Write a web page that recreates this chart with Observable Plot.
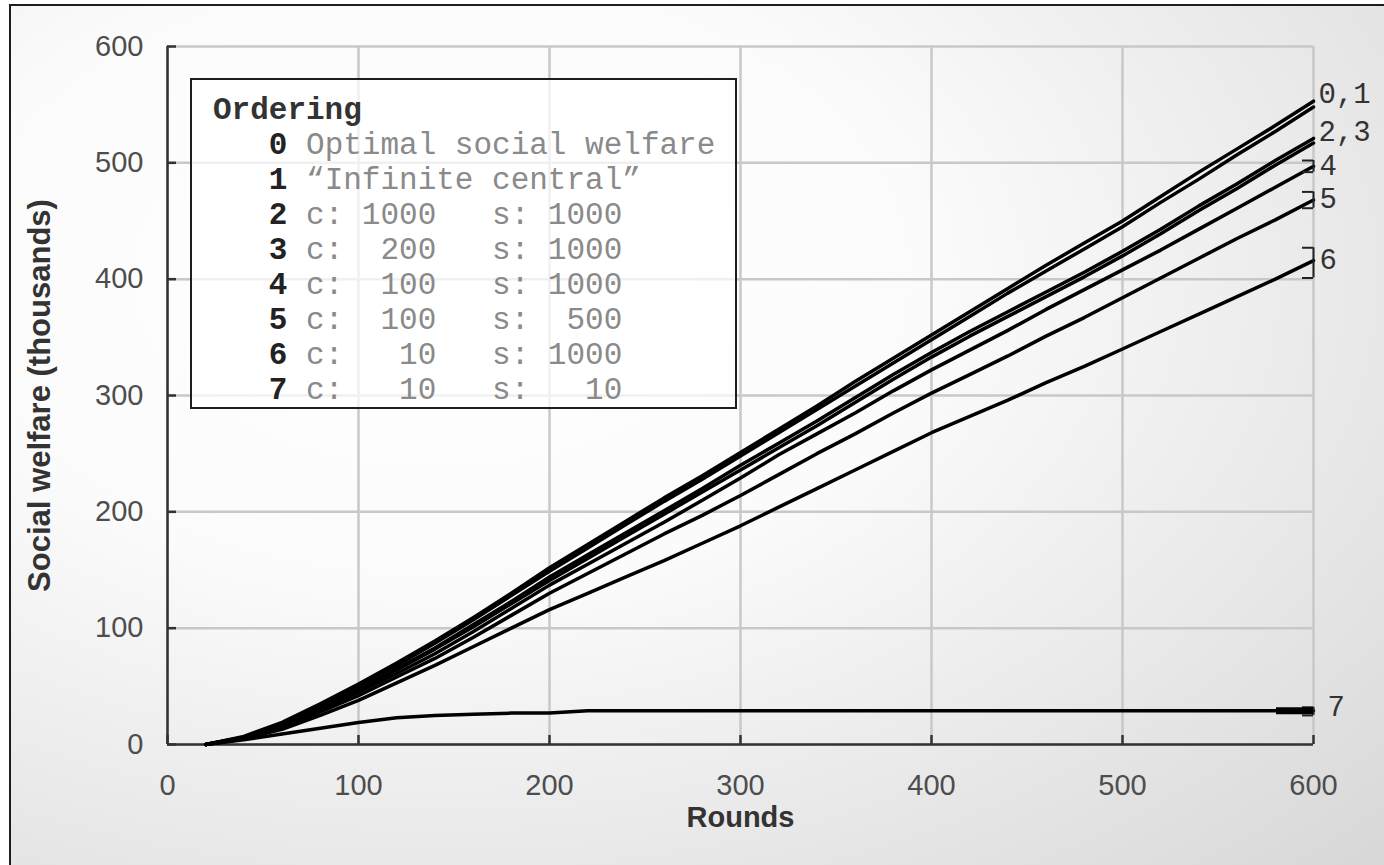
<!DOCTYPE html>
<html>
<head>
<meta charset="utf-8">
<script src="https://cdn.jsdelivr.net/npm/d3@7"></script>
<script src="https://cdn.jsdelivr.net/npm/@observablehq/plot@0.6"></script>
<style>
  html, body { margin: 0; padding: 0; background: #ffffff; overflow: hidden; }
  #page { position: relative; width: 1384px; height: 865px; overflow: hidden; }
  #frame {
    position: absolute; left: 9px; top: 4px; width: 1420px; height: 900px;
    border-left: 2px solid #1e1e1e; border-top: 2px solid #1e1e1e;
    background: radial-gradient(ellipse farthest-corner at 30% 30%, #ffffff 0%, #fbfbfb 35%, #d4d4d4 100%);
  }
  #chart { position: absolute; left: 0; top: 0; }
  #chart svg { background: transparent; }
  #legend {
    position: absolute; left: 190px; top: 78px; width: 547px; height: 331px;
    box-sizing: border-box; border: 2px solid #1e1e1e;
    background: rgba(255,255,255,0.72);
    padding: 13px 0 0 21px;
    font-family: "Liberation Mono", "Courier New", monospace; font-size: 31px; line-height: 35px;
    white-space: pre; color: #8a8a8a;
  }
  #legend .head { font-weight: bold; color: #333333; }
  #legend .num { font-weight: bold; color: #222222; }
</style>
</head>
<body>
<div id="page">
  <div id="frame"></div>
  <div id="chart"></div>
  <div id="legend"></div>
</div>
<script>
// Rounds at which social welfare was recorded
const rounds = [20, 40, 60, 80, 100, 120, 140, 160, 180, 200, 220, 240, 260, 280, 300,
                320, 340, 360, 380, 400, 420, 440, 460, 480, 500, 520, 540, 560, 580, 600];

// Social welfare (thousands) per ordering
const welfare0 = [0, 7, 19, 35, 52, 70, 89, 109, 130, 152, 172, 192, 212, 231, 251,
                  271, 291, 312, 332, 352, 372, 392, 412, 431, 450, 471, 492, 512, 532, 553];
const welfare1 = [0, 6, 18, 34, 51, 68, 87, 107, 128, 149, 169, 189, 209, 228, 248,
                  268, 288, 308, 328, 348, 368, 388, 407, 426, 445, 466, 486, 507, 527, 548];
const welfare2 = [0, 6, 17, 32, 48, 65, 83, 103, 123, 144, 163, 182, 201, 220, 240,
                  259, 278, 298, 318, 337, 355, 372, 389, 406, 424, 443, 463, 482, 502, 521];
const welfare3 = [0, 6, 17, 31, 47, 64, 82, 101, 121, 141, 160, 179, 198, 217, 236,
                  255, 274, 294, 314, 333, 351, 368, 385, 402, 420, 439, 459, 478, 498, 517];
const welfare4 = [0, 6, 16, 30, 45, 61, 78, 97, 117, 137, 155, 173, 191, 210, 229,
                  249, 267, 285, 304, 322, 339, 356, 374, 391, 408, 425, 443, 461, 479, 497];
const welfare5 = [0, 5, 15, 28, 42, 58, 74, 92, 111, 130, 147, 164, 181, 197, 214,
                  232, 250, 267, 285, 302, 318, 334, 351, 367, 384, 401, 418, 435, 451, 468];
const welfare6 = [0, 5, 13, 25, 38, 53, 68, 84, 100, 116, 130, 144, 158, 173, 188,
                  204, 220, 236, 252, 268, 282, 296, 311, 325, 340, 355, 370, 385, 400, 416];
const welfare7 = [0, 4, 9, 14, 19, 23, 25, 26, 27, 27, 29, 29, 29, 29, 29,
                  29, 29, 29, 29, 29, 29, 29, 29, 29, 29, 29, 29, 29, 29, 29];

const seriesIds = ["0", "1", "2", "3", "4", "5", "6", "7"];
const seriesValues = [welfare0, welfare1, welfare2, welfare3, welfare4, welfare5, welfare6, welfare7];

// Labels at the right end of the lines, and the series each one sits on
const pairLabels = ["0,1", "2,3"];
const pairLabelSeries = [0, 2];
const singleLabels = ["4", "5", "6"];
const singleLabelSeries = [4, 5, 6];
const lastLabel = "7";

// Spread of final values shown as brackets at round 600
const bracketSeries = ["4", "5", "6", "7"];
const bracketLow = [492, 461, 401, 25];
const bracketHigh = [502, 475, 427, 32];

// Legend contents
const legendTitle = "Ordering";
const legendIds = ["0", "1", "2", "3", "4", "5", "6", "7"];
const legendText = [
  "Optimal social welfare",
  "\u201CInfinite central\u201D",
  "c: 1000   s: 1000",
  "c:  200   s: 1000",
  "c:  100   s: 1000",
  "c:  100   s:  500",
  "c:   10   s: 1000",
  "c:   10   s:   10"
];

// Axis ticks
const xTicks = [0, 100, 200, 300, 400, 500, 600];
const yTicks = [0, 100, 200, 300, 400, 500, 600];
const xTitle = "Rounds";
const yTitle = "Social welfare (thousands)";

// ---- build tables ----
const rows = [];
seriesValues.forEach((vals, i) => {
  vals.forEach((v, j) => rows.push({series: seriesIds[i], round: rounds[j], value: v}));
});
const lastIndex = rounds.length - 1;
const lastRound = rounds[lastIndex];
const labelRows = (texts, idx) => texts.map((t, i) => ({
  text: t, round: lastRound, value: seriesValues[idx[i]][lastIndex]
}));
const pairRows = labelRows(pairLabels, pairLabelSeries);
const singleRows = labelRows(singleLabels, singleLabelSeries);
const lastRow = [{text: lastLabel, round: lastRound, value: welfare7[lastIndex]}];
const brackets = bracketSeries.map((s, i) => ({series: s, lo: bracketLow[i], hi: bracketHigh[i]}));

const W = 1384, H = 865;
const mL = 167, mR = 71, mT = 46, mB = 121;
const plotW = W - mL - mR, plotH = H - mT - mB;
const sansFont = "'Liberation Sans', Arial, sans-serif";
const monoFont = "'Liberation Mono', 'Courier New', monospace";
const labelStyle = {x: "round", y: "value", text: "text", textAnchor: "start",
                    fontFamily: monoFont, fontSize: 29, fill: "#333333"};

const chart = Plot.plot({
  width: W, height: H,
  marginLeft: mL, marginRight: mR, marginTop: mT, marginBottom: mB,
  style: {background: "transparent", fontFamily: sansFont},
  x: {domain: [0, 600], label: null},
  y: {domain: [0, 600], label: null},
  marks: [
    // light grid
    Plot.ruleX(xTicks, {stroke: "#c8c8c8", strokeWidth: 2.5}),
    Plot.ruleY(yTicks, {stroke: "#c8c8c8", strokeWidth: 2.5}),
    // dark axis lines
    Plot.ruleX([0], {stroke: "#333333", strokeWidth: 2.5}),
    Plot.ruleY([0], {stroke: "#333333", strokeWidth: 2.5}),
    // short inward ticks
    Plot.ruleY(yTicks, {x1: 0, x2: 600, insetRight: plotW - 9, stroke: "#333333", strokeWidth: 2.5}),
    Plot.ruleX(xTicks, {y1: 600, y2: 0, insetTop: plotH - 9, stroke: "#333333", strokeWidth: 2.5}),
    // tick labels
    Plot.axisY({ticks: yTicks, tickSize: 0, tickPadding: 24, fontSize: 29, fill: "#4d4d4d", label: null}),
    Plot.axisX({ticks: xTicks, tickSize: 0, tickPadding: 30, fontSize: 29, fill: "#4d4d4d", label: null}),
    // axis titles
    Plot.text([xTitle], {frameAnchor: "bottom", dy: 73, lineAnchor: "middle",
                         fontSize: 29, fontWeight: "bold", fill: "#333333"}),
    Plot.text([yTitle], {frameAnchor: "left", dx: -127, rotate: -90, textAnchor: "middle", lineAnchor: "middle",
                         fontSize: 31, fontWeight: "bold", fill: "#333333"}),
    // welfare curves
    Plot.line(rows, {x: "round", y: "value", z: "series", stroke: "#000000", strokeWidth: 3.5}),
    // end-value brackets
    Plot.ruleY(brackets, {y: "hi", x1: 0, x2: 600, insetLeft: plotW - 11, stroke: "#222222", strokeWidth: 2}),
    Plot.ruleY(brackets, {y: "lo", x1: 0, x2: 600, insetLeft: plotW - 11, stroke: "#222222", strokeWidth: 2}),
    Plot.ruleX(brackets, {x: lastRound, y1: "lo", y2: "hi", stroke: "#222222", strokeWidth: 2}),
    Plot.ruleY(lastRow, {y: "value", x1: 0, x2: 600, insetLeft: plotW - 37, stroke: "#000000", strokeWidth: 7}),
    // end labels
    Plot.text(pairRows, {...labelStyle, dx: 5, dy: -7}),
    Plot.text(singleRows, {...labelStyle, dx: 6, dy: -1}),
    Plot.text(lastRow, {...labelStyle, dx: 14, dy: -4})
  ]
});
document.getElementById("chart").appendChild(chart);

// legend box
const legend = document.getElementById("legend");
const head = document.createElement("div");
head.className = "head";
head.textContent = legendTitle;
legend.appendChild(head);
legendIds.forEach((id, i) => {
  const line = document.createElement("div");
  line.appendChild(document.createTextNode("   "));
  const num = document.createElement("span");
  num.className = "num";
  num.textContent = id;
  line.appendChild(num);
  line.appendChild(document.createTextNode(" " + legendText[i]));
  legend.appendChild(line);
});
</script>
</body>
</html>
